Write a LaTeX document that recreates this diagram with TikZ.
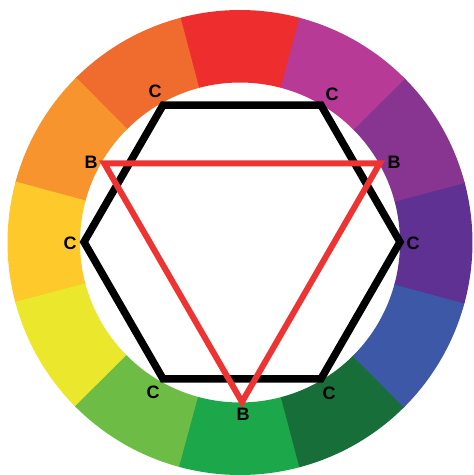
\documentclass[tikz,border=0pt]{standalone}
\usepackage{fontspec}
\setmainfont{Liberation Sans}
\usetikzlibrary{calc}
\definecolor{c0}{HTML}{EE2E2E}
\definecolor{c1}{HTML}{F06C2E}
\definecolor{c2}{HTML}{F7942E}
\definecolor{c3}{HTML}{FDC92B}
\definecolor{c4}{HTML}{EBE72C}
\definecolor{c5}{HTML}{6DBC45}
\definecolor{c6}{HTML}{1CA74A}
\definecolor{c7}{HTML}{186E38}
\definecolor{c8}{HTML}{3C58A6}
\definecolor{c9}{HTML}{5F3193}
\definecolor{c10}{HTML}{873590}
\definecolor{c11}{HTML}{B63A96}
\definecolor{tri}{HTML}{EE3333}
\tikzset{
  lbl/.style={font=\fontsize{18}{18}\selectfont\bfseries, text=black, inner sep=0pt},
  hexline/.style={draw=black, line width=7.5pt, line join=miter},
  triline/.style={draw=tri, line width=6pt, line join=miter}
}
\begin{document}
\begin{tikzpicture}[x=1pt,y=1pt]
\useasboundingbox (0,0) rectangle (474,475);
\fill[white] (0,0) rectangle (474,475);
\coordinate (w) at (240,232.5);
\foreach \i in {0,...,11}{
  \pgfmathsetmacro{\a}{90+30*\i}
  \fill[c\i] ($(w)+(\a-15.2:232.5)$) arc[start angle=\a-15.2, end angle=\a+15.2, radius=232.5]
     -- ($(w)+(\a+15.2:160)$) arc[start angle=\a+15.2, end angle=\a-15.2, radius=160] -- cycle;
}
% hexagon
\coordinate (h) at (242,233);
\coordinate (hTL) at ($(h)+(120:158)$);
\coordinate (hTR) at ($(h)+(60:158)$);
\coordinate (hR) at ($(h)+(0:158)$);
\coordinate (hBR) at ($(h)+(-60:158)$);
\coordinate (hBL) at ($(h)+(-120:158)$);
\coordinate (hL) at ($(h)+(180:158)$);
\draw[hexline] (hTL) -- (hTR) -- (hR) -- (hBR) -- (hBL) -- (hL) -- cycle;
% triangle
\coordinate (t) at (242,232);
\coordinate (tL) at ($(t)+(150:159)$);
\coordinate (tR) at ($(t)+(30:159)$);
\coordinate (tB) at ($(t)+(-90:159)$);
\draw[triline] (tL) -- (tR) -- (tB) -- cycle;
% labels
\node[lbl] (lC1) at (155,384) {C};
\node[lbl] (lC2) at (332,381) {C};
\node[lbl] (lB1) at (91,313) {B};
\node[lbl] (lB2) at (394,313) {B};
\node[lbl] (lC3) at (70,232) {C};
\node[lbl] (lC4) at (413,232) {C};
\node[lbl] (lC5) at (153,83) {C};
\node[lbl] (lC6) at (329,82) {C};
\node[lbl] (lB3) at (243,60.5) {B};
\end{tikzpicture}
\end{document}
